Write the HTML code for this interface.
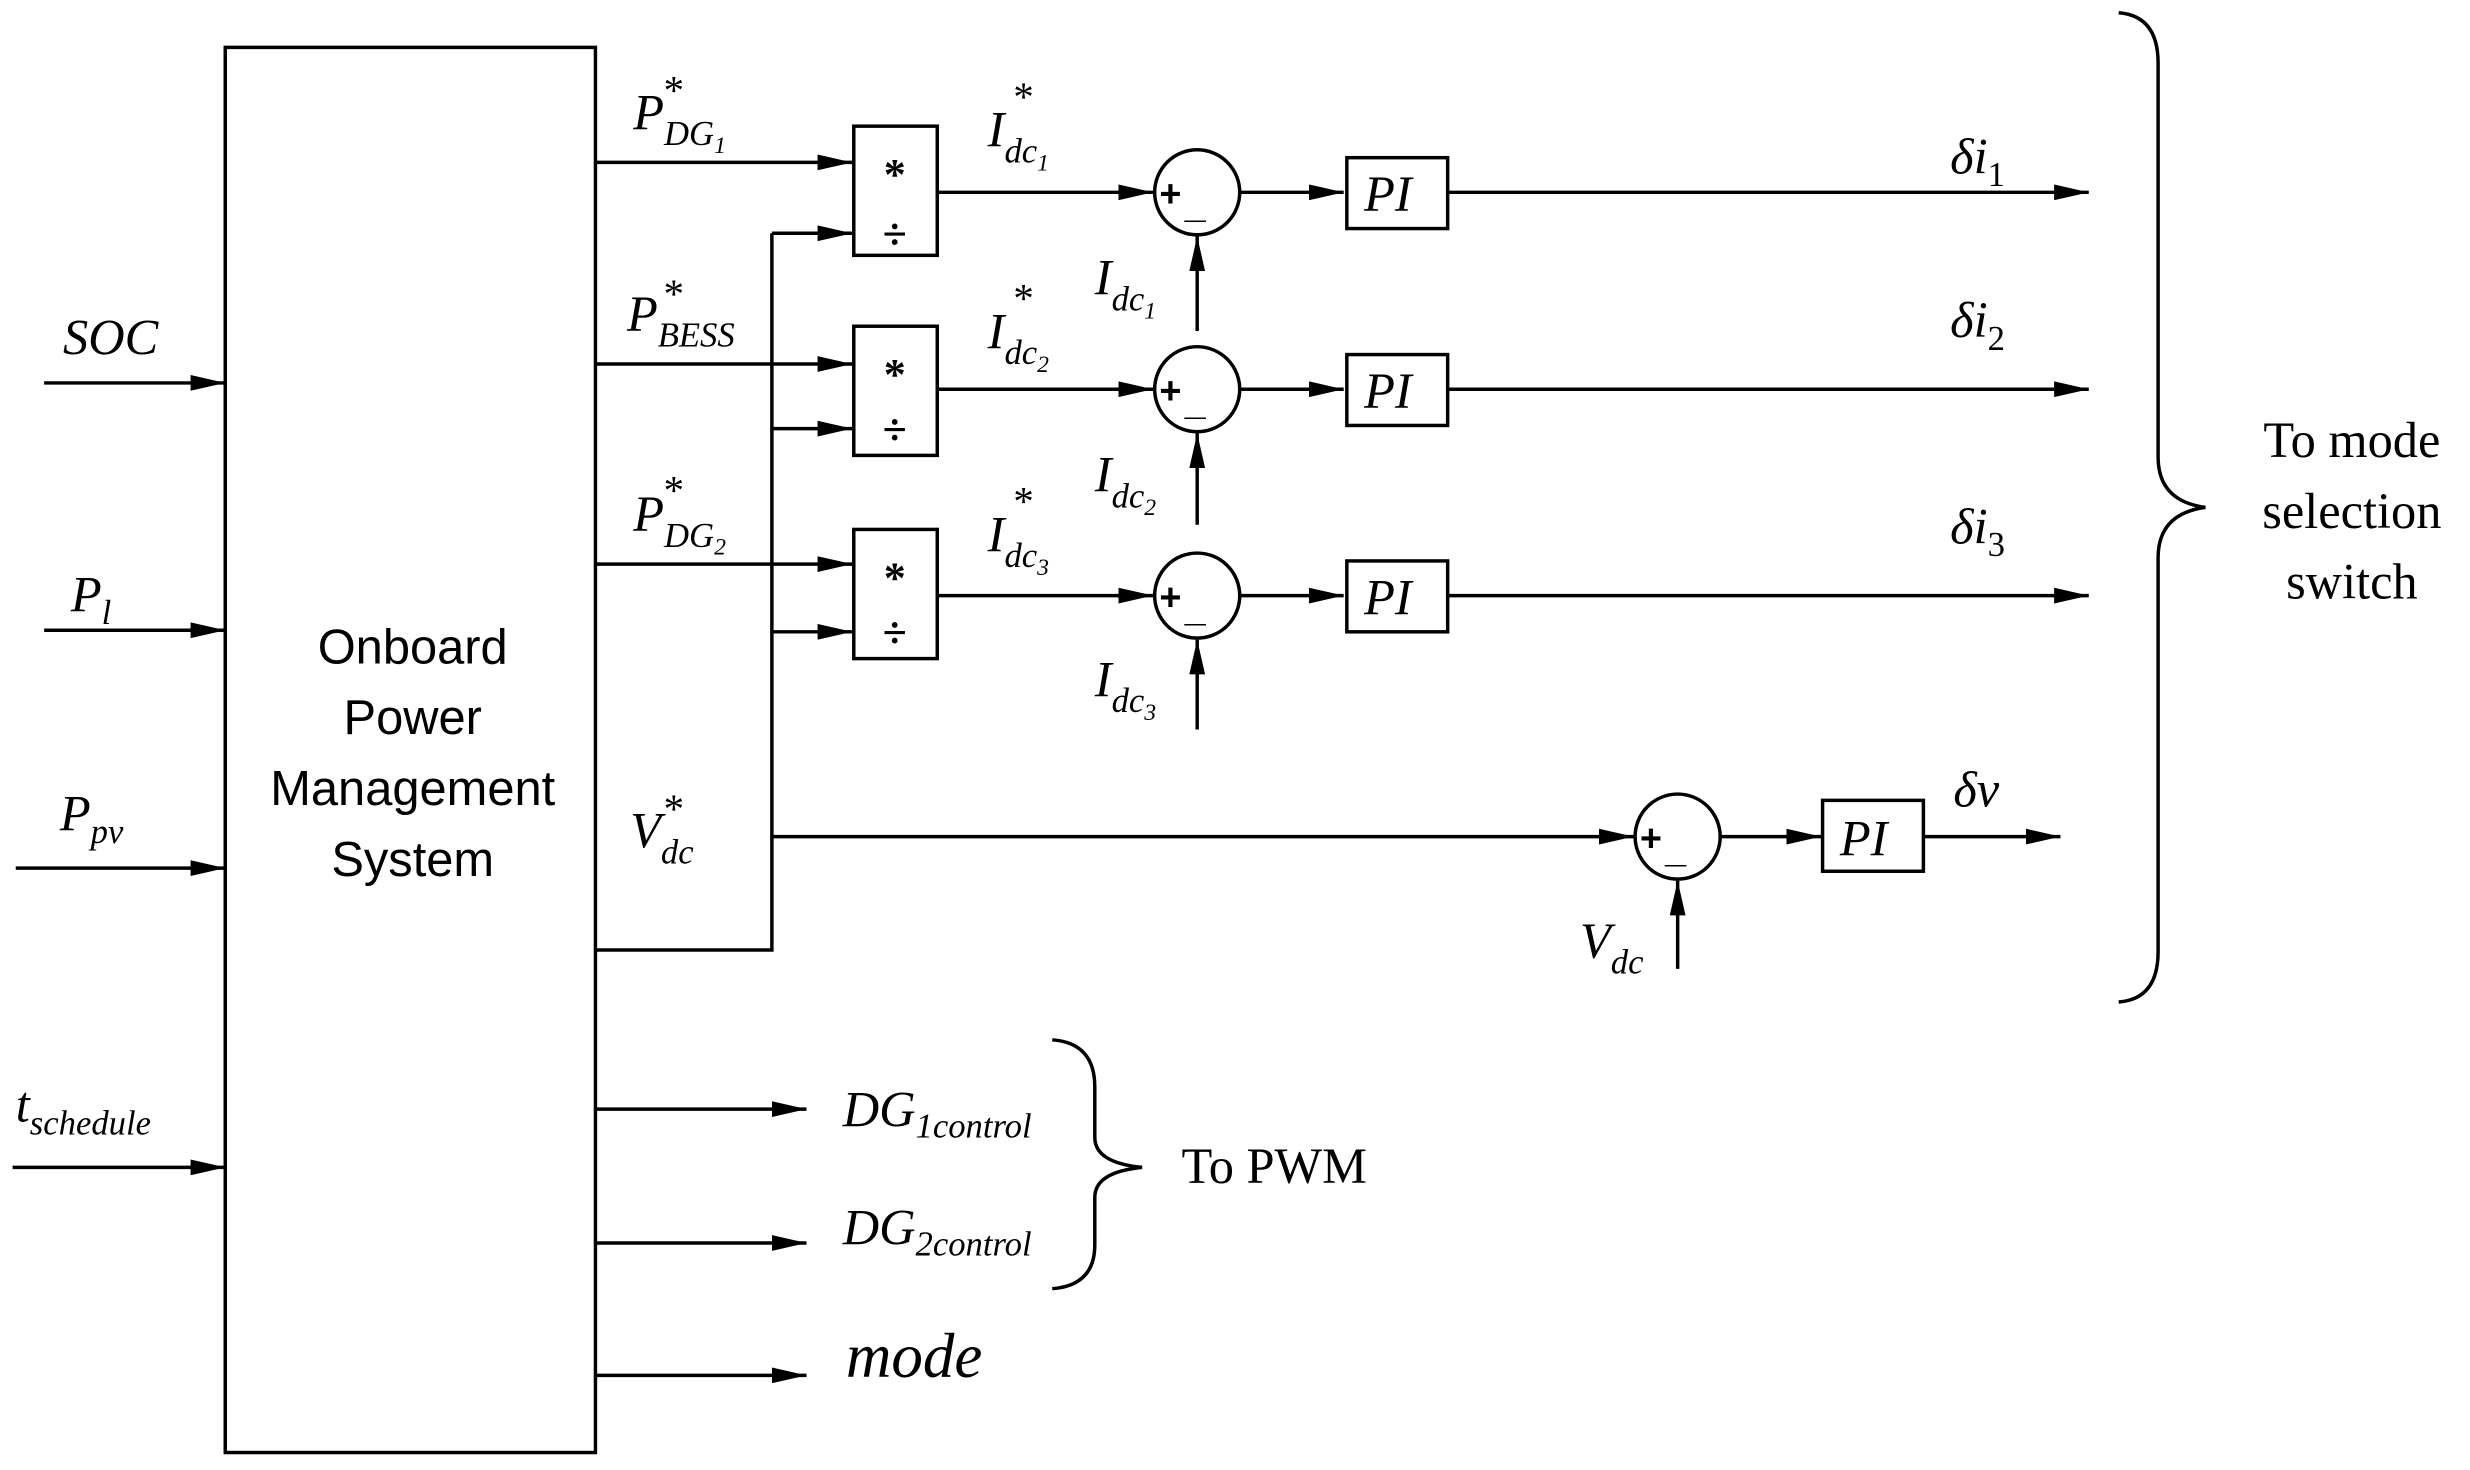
<!DOCTYPE html>
<html><head><meta charset="utf-8"><style>
html,body{margin:0;padding:0;background:#fff;}
svg{display:block;}
.s{font-family:"Liberation Serif",serif;font-style:italic;fill:#000;}
.r{font-family:"Liberation Serif",serif;fill:#000;}
</style></head><body>
<svg width="2470" height="1470" viewBox="0 0 1568 933" xmlns="http://www.w3.org/2000/svg">
<defs>
<marker id="b" markerWidth="22" markerHeight="10" refX="22" refY="5" orient="auto" markerUnits="userSpaceOnUse"><path d="M0,0 L22,5 L0,10 z"/></marker></defs>
<g stroke="#000" stroke-width="2.2" fill="none">
<rect x="143" y="30" width="235" height="892"/>
<line x1="28" y1="243" x2="143" y2="243" marker-end="url(#b)"/>
<line x1="28" y1="400" x2="143" y2="400" marker-end="url(#b)"/>
<line x1="10" y1="551" x2="143" y2="551" marker-end="url(#b)"/>
<line x1="8" y1="741" x2="143" y2="741" marker-end="url(#b)"/>
<line x1="378" y1="103" x2="541" y2="103" marker-end="url(#b)"/>
<line x1="378" y1="231" x2="541" y2="231" marker-end="url(#b)"/>
<line x1="378" y1="358" x2="541" y2="358" marker-end="url(#b)"/>
<polyline points="378,603 490,603 490,148"/>
<line x1="490" y1="148" x2="541" y2="148" marker-end="url(#b)"/>
<line x1="490" y1="272" x2="541" y2="272" marker-end="url(#b)"/>
<line x1="490" y1="401" x2="541" y2="401" marker-end="url(#b)"/>
<rect x="542" y="80" width="53" height="82"/>
<rect x="542" y="207" width="53" height="82"/>
<rect x="542" y="336" width="53" height="82"/>
<line x1="595" y1="122" x2="732" y2="122" marker-end="url(#b)"/>
<line x1="595" y1="247" x2="732" y2="247" marker-end="url(#b)"/>
<line x1="595" y1="378" x2="732" y2="378" marker-end="url(#b)"/>
<circle cx="760" cy="122" r="27"/><circle cx="760" cy="247" r="27"/><circle cx="760" cy="378" r="27"/>
<line x1="787" y1="122" x2="853" y2="122" marker-end="url(#b)"/>
<line x1="787" y1="247" x2="853" y2="247" marker-end="url(#b)"/>
<line x1="787" y1="378" x2="853" y2="378" marker-end="url(#b)"/>
<rect x="855" y="100" width="64" height="45"/><rect x="855" y="225" width="64" height="45"/><rect x="855" y="356" width="64" height="45"/>
<line x1="919" y1="122" x2="1326" y2="122" marker-end="url(#b)"/>
<line x1="919" y1="247" x2="1326" y2="247" marker-end="url(#b)"/>
<line x1="919" y1="378" x2="1326" y2="378" marker-end="url(#b)"/>
<line x1="760" y1="210" x2="760" y2="150" marker-end="url(#b)"/>
<line x1="760" y1="333" x2="760" y2="275" marker-end="url(#b)"/>
<line x1="760" y1="463" x2="760" y2="406" marker-end="url(#b)"/>
<line x1="490" y1="531" x2="1037" y2="531" marker-end="url(#b)"/>
<circle cx="1065" cy="531" r="27"/>
<line x1="1092" y1="531" x2="1156" y2="531" marker-end="url(#b)"/>
<rect x="1157" y="508" width="64" height="45"/>
<line x1="1221" y1="531" x2="1308" y2="531" marker-end="url(#b)"/>
<line x1="1065" y1="615" x2="1065" y2="559" marker-end="url(#b)"/>
<line x1="378" y1="704" x2="512" y2="704" marker-end="url(#b)"/>
<line x1="378" y1="789" x2="512" y2="789" marker-end="url(#b)"/>
<line x1="378" y1="873" x2="512" y2="873" marker-end="url(#b)"/>
<path d="M1345,8 Q1370,10 1370,40 L1370,290 Q1370,318 1400,322 Q1370,326 1370,354 L1370,604 Q1370,634 1345,636"/>
<path d="M668,660 Q695,662 695,690 L695,722 Q695,738 725,741 Q695,744 695,760 L695,790 Q695,816 668,818"/>
</g>
<g font-family="Liberation Sans, sans-serif" font-size="31" text-anchor="middle">
<text x="262" y="421">Onboard</text><text x="262" y="466">Power</text><text x="262" y="511">Management</text><text x="262" y="556">System</text>
</g>
<g class="r" font-size="28" text-anchor="middle" font-weight="bold">
<text x="568" y="120">*</text><text x="568" y="158">÷</text>
<text x="568" y="247">*</text><text x="568" y="282">÷</text>
<text x="568" y="376">*</text><text x="568" y="411">÷</text>
</g>
<g font-family="Liberation Sans,sans-serif" font-size="24" font-weight="bold">
<text x="736" y="131">+</text><text x="752" y="138">_</text>
<text x="736" y="256">+</text><text x="752" y="263">_</text>
<text x="736" y="387">+</text><text x="752" y="394">_</text>
<text x="1041" y="540">+</text><text x="1057" y="547">_</text>
</g>
<g class="s" font-size="32">
<text x="40" y="225">SOC</text>
<text x="45" y="388">P<tspan font-size="22" dy="8">l</tspan></text>
<text x="38" y="527">P<tspan font-size="22" dy="8">pv</tspan></text>
<text x="10" y="712">t<tspan font-size="22" dy="8">schedule</tspan></text>
<text x="402" y="82">P<tspan font-size="22" dy="10">DG</tspan><tspan font-size="15" dy="5">1</tspan></text><text class="r" x="420" y="66" font-size="26">*</text>
<text x="398" y="210">P<tspan font-size="22" dy="10">BESS</tspan></text><text class="r" x="420" y="195" font-size="26">*</text>
<text x="402" y="337">P<tspan font-size="22" dy="10">DG</tspan><tspan font-size="15" dy="5">2</tspan></text><text class="r" x="420" y="320" font-size="26">*</text>
<text x="400" y="538">V<tspan font-size="22" dy="10">dc</tspan></text><text class="r" x="420" y="522" font-size="26">*</text>
<text x="627" y="93">I<tspan font-size="22" dy="10">dc</tspan><tspan font-size="15" dy="5">1</tspan></text><text class="r" x="642" y="70" font-size="26">*</text>
<text x="627" y="221">I<tspan font-size="22" dy="10">dc</tspan><tspan font-size="15" dy="5">2</tspan></text><text class="r" x="642" y="198" font-size="26">*</text>
<text x="627" y="350">I<tspan font-size="22" dy="10">dc</tspan><tspan font-size="15" dy="5">3</tspan></text><text class="r" x="642" y="327" font-size="26">*</text>
<text x="695" y="187">I<tspan font-size="22" dy="10">dc</tspan><tspan font-size="15" dy="5">1</tspan></text>
<text x="695" y="312">I<tspan font-size="22" dy="10">dc</tspan><tspan font-size="15" dy="5">2</tspan></text>
<text x="695" y="442">I<tspan font-size="22" dy="10">dc</tspan><tspan font-size="15" dy="5">3</tspan></text>
<text x="1003" y="608">V<tspan font-size="22" dy="10">dc</tspan></text>
<text x="866" y="134">PI</text><text x="866" y="259">PI</text><text x="866" y="390">PI</text><text x="1168" y="543">PI</text>
<text x="1238" y="110">δi<tspan class="r" font-style="normal" font-size="22" dy="8">1</tspan></text>
<text x="1238" y="214">δi<tspan class="r" font-style="normal" font-size="22" dy="8">2</tspan></text>
<text x="1238" y="345">δi<tspan class="r" font-style="normal" font-size="22" dy="8">3</tspan></text>
<text x="1240" y="512">δv</text>
<text x="535" y="715">DG<tspan font-size="22" dy="7">1control</tspan></text>
<text x="535" y="790">DG<tspan font-size="22" dy="7">2control</tspan></text>
<text x="537" y="874" font-size="40">mode</text>
</g>
<g class="r" font-size="32">
<text x="750" y="751">To PWM</text>
<text x="1493" y="290" text-anchor="middle">To mode</text>
<text x="1493" y="335" text-anchor="middle">selection</text>
<text x="1493" y="380" text-anchor="middle">switch</text>
</g>
</svg>
</body></html>
